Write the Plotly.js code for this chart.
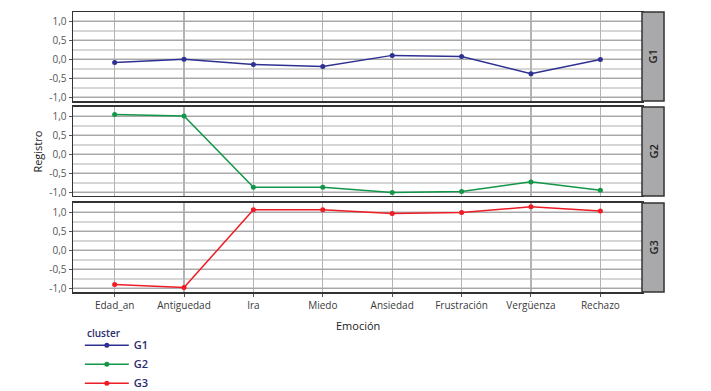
<!DOCTYPE html>
<html>
<head>
<meta charset="utf-8">
<script src="https://cdn.plot.ly/plotly-3.0.1.min.js"></script>
<style>html,body{margin:0;padding:0;background:#fff;}#chart{width:711px;height:391px;}</style>
</head>
<body>
<div id="chart"></div>
<script>
const categories = ['Edad_an','Antiguedad','Ira','Miedo','Ansiedad','Frustración','Vergüenza','Rechazo'];
const groups = ['G1','G2','G3'];
const g1 = [-0.09, 0.00, -0.14, -0.19, 0.10, 0.07, -0.38, -0.01];
const g2 = [1.04, 1.00, -0.87, -0.87, -1.01, -0.98, -0.73, -0.95];
const g3 = [-0.90, -0.98, 1.06, 1.06, 0.96, 0.99, 1.14, 1.03];
const yTickVals = [-1, -0.5, 0, 0.5, 1];
const yTickText = ['-1,0', '-0,5', '0,0', '0,5', '1,0'];
const colors = ['#2e3192', '#129647', '#ee1c25'];
const series = [g1, g2, g3];

const font = 'Open Sans, Noto Sans, sans-serif';
const traces = series.map((vals, i) => ({
  type: 'scatter', mode: 'lines+markers',
  x: categories, y: vals, name: groups[i],
  xaxis: i === 0 ? 'x' : 'x' + (i + 1),
  yaxis: i === 0 ? 'y' : 'y' + (i + 1),
  line: {color: colors[i], width: 1.5},
  marker: {color: colors[i], size: 5}
}));

const domains = [[0.682, 1], [0.343, 0.661], [0, 0.318]];
const layout = {
  width: 711, height: 391,
  margin: {l: 73, r: 69, t: 12, b: 99, autoexpand: false},
  paper_bgcolor: '#fff', plot_bgcolor: '#fff',
  font: {family: font, size: 10, color: '#555'},
  showlegend: true,
  legend: {
    x: 0.012, y: -0.138, xanchor: 'left', yanchor: 'top',
    itemwidth: 44,
    font: {size: 11, color: '#2d2a6e', weight: 600},
    bgcolor: 'rgba(0,0,0,0)', tracegroupgap: 0
  },
  shapes: [], annotations: []
};

for (let i = 0; i < 3; i++) {
  const sfx = i === 0 ? '' : String(i + 1);
  layout['xaxis' + sfx] = {
    type: 'category', categoryorder: 'array', categoryarray: categories,
    range: [-0.6, 7.6], domain: [0, 1], anchor: 'y' + sfx,
    showticklabels: i === 2, ticks: i === 2 ? 'outside' : '', ticklen: 3, tickcolor: '#555',
    showgrid: true, gridcolor: '#b4b4b4', gridwidth: 1.3,
    showline: true, mirror: true, linecolor: '#333', linewidth: 1.5,
    zeroline: false, tickfont: {size: 10, color: '#3a3a3a'}, fixedrange: true
  };
  layout['yaxis' + sfx] = {
    range: [-1.1, 1.24], domain: domains[i], anchor: 'x' + sfx,
    tickmode: 'array', tickvals: yTickVals, ticktext: yTickText,
    ticks: 'outside', ticklen: 3, tickcolor: '#555',
    showgrid: true, gridcolor: '#a8a8a8', gridwidth: 1,
    minor: {dtick: 0.25, tick0: 0, showgrid: true, gridcolor: '#d6d6d6', gridwidth: 2, ticks: ''},
    showline: true, mirror: true, linecolor: '#333', linewidth: 1.5,
    zeroline: false, tickfont: {size: 10, color: '#555'}, fixedrange: true
  };
  layout.shapes.push({
    type: 'rect', xref: 'paper', yref: 'paper',
    x0: 1.0, x1: 1.0387, y0: domains[i][0], y1: domains[i][1],
    fillcolor: '#a9a9ab', line: {color: '#333', width: 1.5}
  });
  layout.annotations.push({
    xref: 'paper', yref: 'paper', x: 1.0193, y: (domains[i][0] + domains[i][1]) / 2,
    xanchor: 'center', yanchor: 'middle',
    text: groups[i], showarrow: false, textangle: -90,
    font: {size: 11, color: '#222', weight: 600}
  });
}
layout.annotations.push({
  xref: 'paper', yref: 'paper', x: -0.063, y: (domains[1][0] + domains[1][1]) / 2,
  xanchor: 'center', yanchor: 'middle',
  text: 'Registro', showarrow: false, textangle: -90,
  font: {size: 11, color: '#222'}
});
layout.annotations.push({
  xref: 'paper', yref: 'paper', x: 0.5, y: -0.121,
  xanchor: 'center', yanchor: 'middle',
  text: 'Emoción', showarrow: false,
  font: {size: 11, color: '#222'}
});
layout.annotations.push({
  xref: 'paper', yref: 'paper', x: 0.021, y: -0.146,
  xanchor: 'left', yanchor: 'middle',
  text: 'cluster', showarrow: false,
  font: {size: 10, color: '#2d2a6e', weight: 600}
});

Plotly.newPlot('chart', traces, layout, {displayModeBar: false, staticPlot: true});
</script>
</body>
</html>
